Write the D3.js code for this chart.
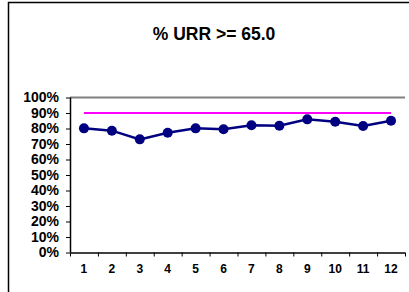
<!DOCTYPE html>
<html>
<head>
<meta charset="utf-8">
<script src="https://cdn.jsdelivr.net/npm/d3@7"></script>
<style>
  body { margin: 0; background: #fff; }
  svg { display: block; font-family: Arial, "Liberation Sans", sans-serif; }
</style>
</head>
<body>
<svg id="chart" width="409" height="292"></svg>
<script>
'use strict'

const title = '% URR >= 65.0'
const months = ['1', '2', '3', '4', '5', '6', '7', '8', '9', '10', '11', '12']
const urrPct = [80.1, 78.6, 73.0, 77.3, 80.1, 79.5, 82.1, 81.8, 85.9, 84.4, 81.6, 85.0]
const goalPct = 90
const yTicks = [0, 10, 20, 30, 40, 50, 60, 70, 80, 90, 100]

const svg = d3.select('#chart')
const width = +svg.attr('width')
const height = +svg.attr('height')

// chart frame, clipped by the picture on the right and bottom
svg.append('rect')
  .attr('x', 8.5).attr('y', 2.5)
  .attr('width', width + 10).attr('height', height + 10)
  .attr('fill', '#fff')
  .attr('stroke', '#000')
  .attr('stroke-width', 1.5)

const plot = { left: 70, right: 405, top: 97.5, bottom: 252.5 }

const x = d3.scaleBand()
  .domain(months)
  .range([plot.left, plot.right])

const y = d3.scaleLinear()
  .domain([0, 100])
  .range([plot.bottom, plot.top])

svg.append('text')
  .attr('x', 214).attr('y', 40)
  .attr('text-anchor', 'middle')
  .attr('font-size', 17.5)
  .attr('font-weight', 'bold')
  .text(title)

// 100% gridline
svg.append('line')
  .attr('x1', plot.left).attr('x2', plot.right)
  .attr('y1', y(100)).attr('y2', y(100))
  .attr('stroke', '#808080')
  .attr('stroke-width', 2)

const yAxis = svg.append('g')
  .attr('transform', `translate(${plot.left},0)`)
  .call(d3.axisLeft(y).tickValues(yTicks).tickFormat(d => d + '%').tickSize(4).tickPadding(7))
yAxis.select('.domain').attr('stroke-width', 1.5).attr('d', `M0.5,${plot.top}V${plot.bottom}`)
yAxis.selectAll('text')
  .attr('font-size', 14)
  .attr('font-weight', 'bold')
  .attr('fill', '#000')
  .attr('font-family', 'Arial, "Liberation Sans", sans-serif')

const xAxis = svg.append('g')
  .attr('transform', `translate(0,${plot.bottom})`)
  .call(d3.axisBottom(x).tickSize(0).tickPadding(12))
xAxis.select('.domain').attr('stroke-width', 1.5).attr('d', `M${plot.left},0.5H${plot.right}`)
xAxis.selectAll('text')
  .attr('font-size', 12)
  .attr('font-weight', 'bold')
  .attr('fill', '#000')
  .attr('font-family', 'Arial, "Liberation Sans", sans-serif')

// ticks between categories
xAxis.selectAll('line.sep')
  .data(d3.range(months.length + 1))
  .join('line')
  .attr('class', 'sep')
  .attr('x1', i => plot.left + i * x.step() + 0.5)
  .attr('x2', i => plot.left + i * x.step() + 0.5)
  .attr('y1', 0).attr('y2', 4)
  .attr('stroke', '#000')

const cx = d => x(d) + x.bandwidth() / 2

svg.append('line')
  .attr('x1', cx(months[0])).attr('x2', cx(months[months.length - 1]))
  .attr('y1', y(goalPct)).attr('y2', y(goalPct))
  .attr('stroke', '#ff00ff')
  .attr('stroke-width', 2)

const line = d3.line()
  .x((d, i) => cx(months[i]))
  .y(d => y(d))

svg.append('path')
  .datum(urrPct)
  .attr('d', line)
  .attr('fill', 'none')
  .attr('stroke', '#000080')
  .attr('stroke-width', 2.5)

svg.append('g')
  .selectAll('circle')
  .data(urrPct)
  .join('circle')
  .attr('cx', (d, i) => cx(months[i]))
  .attr('cy', d => y(d))
  .attr('r', 5)
  .attr('fill', '#000080')
</script>
</body>
</html>
